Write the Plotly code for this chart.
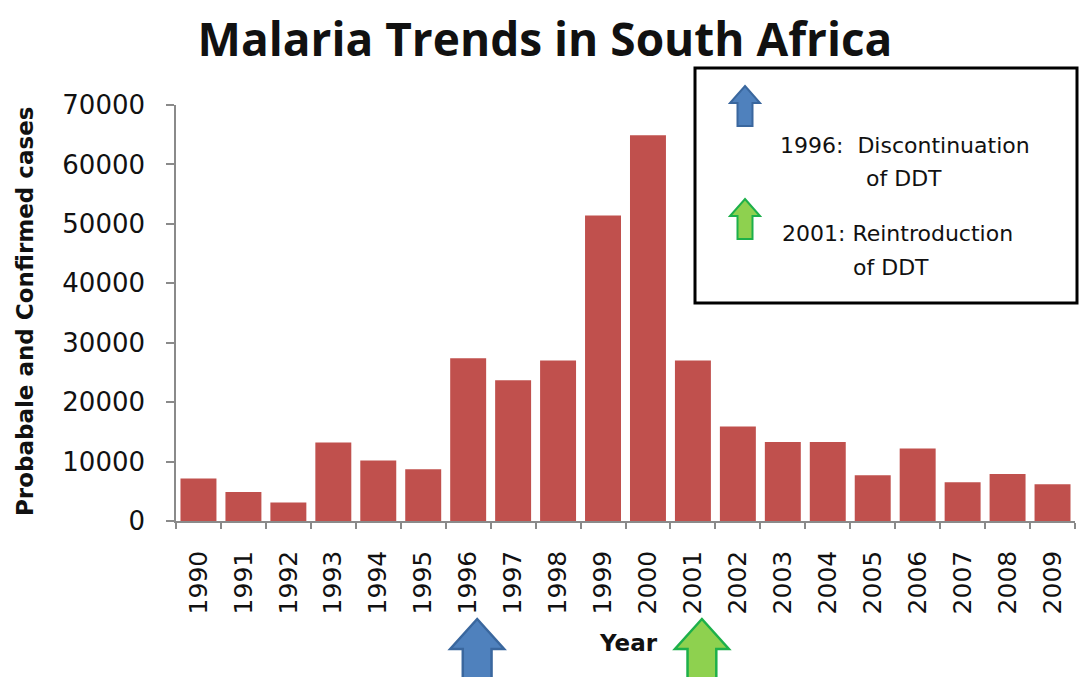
import plotly.graph_objects as go

years = [1990, 1991, 1992, 1993, 1994, 1995, 1996, 1997, 1998, 1999,
         2000, 2001, 2002, 2003, 2004, 2005, 2006, 2007, 2008, 2009]
cases = [7150, 4900, 3100, 13200, 10200, 8700, 27400, 23700, 27000, 51400,
         64900, 27000, 15900, 13300, 13300, 7700, 12200, 6500, 7900, 6200]
year_labels = [str(y) for y in years]
y_ticks = [0, 10000, 20000, 30000, 40000, 50000, 60000, 70000]

discontinuation_year = 1996
reintroduction_year = 2001

title_text = "Malaria Trends in South Africa"
y_title = "Probabale and Confirmed cases"
x_title = "Year"
legend_lines = [("1996:  Discontinuation", "of DDT"), ("2001: Reintroduction", "of DDT")]

BAR = "#C0504D"
BLUE_FILL, BLUE_LINE = "#4F81BD", "#3A679E"
GREEN_FILL, GREEN_LINE = "#8ED14F", "#1DB04A"

W, H = 1083, 677
L, R, T, B = 176, 8, 105, 156
PW, PH = W - L - R, H - T - B


def px_to_paper(xp, yp):
    return (xp - L) / PW, (H - B - yp) / PH


fig = go.Figure()
fig.add_trace(go.Bar(x=years, y=cases, marker=dict(color=BAR, line=dict(width=0)),
                     width=0.8, showlegend=False))


def arrow_path_data(xc, tip, base, bottom, head_w, shaft_w):
    return (f"M {xc},{tip} L {xc + head_w / 2},{base} L {xc + shaft_w / 2},{base} "
            f"L {xc + shaft_w / 2},{bottom} L {xc - shaft_w / 2},{bottom} "
            f"L {xc - shaft_w / 2},{base} L {xc - head_w / 2},{base} Z")


# Arrows under the x axis
_, tip = px_to_paper(0, 619)
_, base = px_to_paper(0, 649)
_, bottom = px_to_paper(0, 690)
for yr, fill, line in [(discontinuation_year, BLUE_FILL, BLUE_LINE),
                       (reintroduction_year, GREEN_FILL, GREEN_LINE)]:
    fig.add_shape(type="path", xref="x", yref="paper",
                  path=arrow_path_data(yr + 0.2, tip, base, bottom, 1.2, 0.64),
                  fillcolor=fill, line=dict(color=line, width=2.5), layer="above")

# Legend box
bx0, by0 = px_to_paper(695, 303)
bx1, by1 = px_to_paper(1077, 68)
fig.add_shape(type="rect", xref="paper", yref="paper", x0=bx0, y0=by0, x1=bx1, y1=by1,
              fillcolor="white", line=dict(color="black", width=3), layer="above")


def arrow_path_px(xc, tip, base, bottom, head_w, shaft_w):
    pts = [(xc, tip), (xc + head_w / 2, base), (xc + shaft_w / 2, base),
           (xc + shaft_w / 2, bottom), (xc - shaft_w / 2, bottom),
           (xc - shaft_w / 2, base), (xc - head_w / 2, base)]
    conv = [px_to_paper(a, b) for a, b in pts]
    return "M " + " L ".join(f"{a},{b}" for a, b in conv) + " Z"


for (tp, fill, line) in [(86, BLUE_FILL, BLUE_LINE), (199, GREEN_FILL, GREEN_LINE)]:
    fig.add_shape(type="path", xref="paper", yref="paper",
                  path=arrow_path_px(745, tp, tp + 17, tp + 40, 30, 15),
                  fillcolor=fill, line=dict(color=line, width=2), layer="above")

leg_font = dict(family="DejaVu Sans", size=22, color="#111")
for (l1, l2), (x1, y1, x2, y2) in zip(legend_lines,
                                       [(778, 145, 864, 178), (780, 233, 851, 267)]):
    ax, ay = px_to_paper(x1, y1)
    fig.add_annotation(x=ax, y=ay, xref="paper", yref="paper", text=l1, showarrow=False,
                       xanchor="left", yanchor="middle", font=leg_font)
    ax, ay = px_to_paper(x2, y2)
    fig.add_annotation(x=ax, y=ay, xref="paper", yref="paper", text=l2, showarrow=False,
                       xanchor="left", yanchor="middle", font=leg_font)

# Axis titles
ax, ay = px_to_paper(25, 312)
fig.add_annotation(x=ax, y=ay, xref="paper", yref="paper", text=f"<b>{y_title}</b>",
                   textangle=-90, showarrow=False, xanchor="center", yanchor="middle",
                   font=dict(family="DejaVu Sans", size=23, color="#111"))
ax, ay = px_to_paper(628, 643)
fig.add_annotation(x=ax, y=ay, xref="paper", yref="paper", text=f"<b>{x_title}</b>",
                   showarrow=False, xanchor="center", yanchor="middle",
                   font=dict(family="DejaVu Sans", size=23, color="#111"))

fig.update_layout(
    width=W, height=H,
    margin=dict(l=L, r=R, t=T, b=B, pad=0),
    paper_bgcolor="white", plot_bgcolor="white",
    title=dict(text=f"<b>{title_text}</b>", x=545 / W, xanchor="center",
               y=1 - 40 / H, yanchor="middle",
               font=dict(family="Open Sans", size=46, color="#111")),
    bargap=0.2,
)
fig.update_xaxes(
    range=[1989.5, 2009.5], tickmode="array", tickvals=years, ticktext=year_labels,
    tickangle=-90, ticks="", showgrid=False, zeroline=False,
    showline=True, linecolor="#8a8a8a", linewidth=1.5,
    tickfont=dict(family="DejaVu Sans", size=25, color="#111"),
    ticklabelstandoff=18,
    minor=dict(ticks="outside", tick0=1989.5, dtick=1, ticklen=6,
               tickcolor="#8a8a8a", tickwidth=1.5, showgrid=False),
)
fig.update_yaxes(
    range=[0, 70000], tickmode="array", tickvals=y_ticks, ticktext=[str(v) for v in y_ticks],
    ticks="outside", ticklen=8, tickcolor="#8a8a8a", tickwidth=1.5,
    showgrid=False, zeroline=False, showline=True, linecolor="#8a8a8a", linewidth=1.5,
    tickfont=dict(family="DejaVu Sans", size=26, color="#111"),
    ticklabelstandoff=16,
)

fig.write_html("out.html")
